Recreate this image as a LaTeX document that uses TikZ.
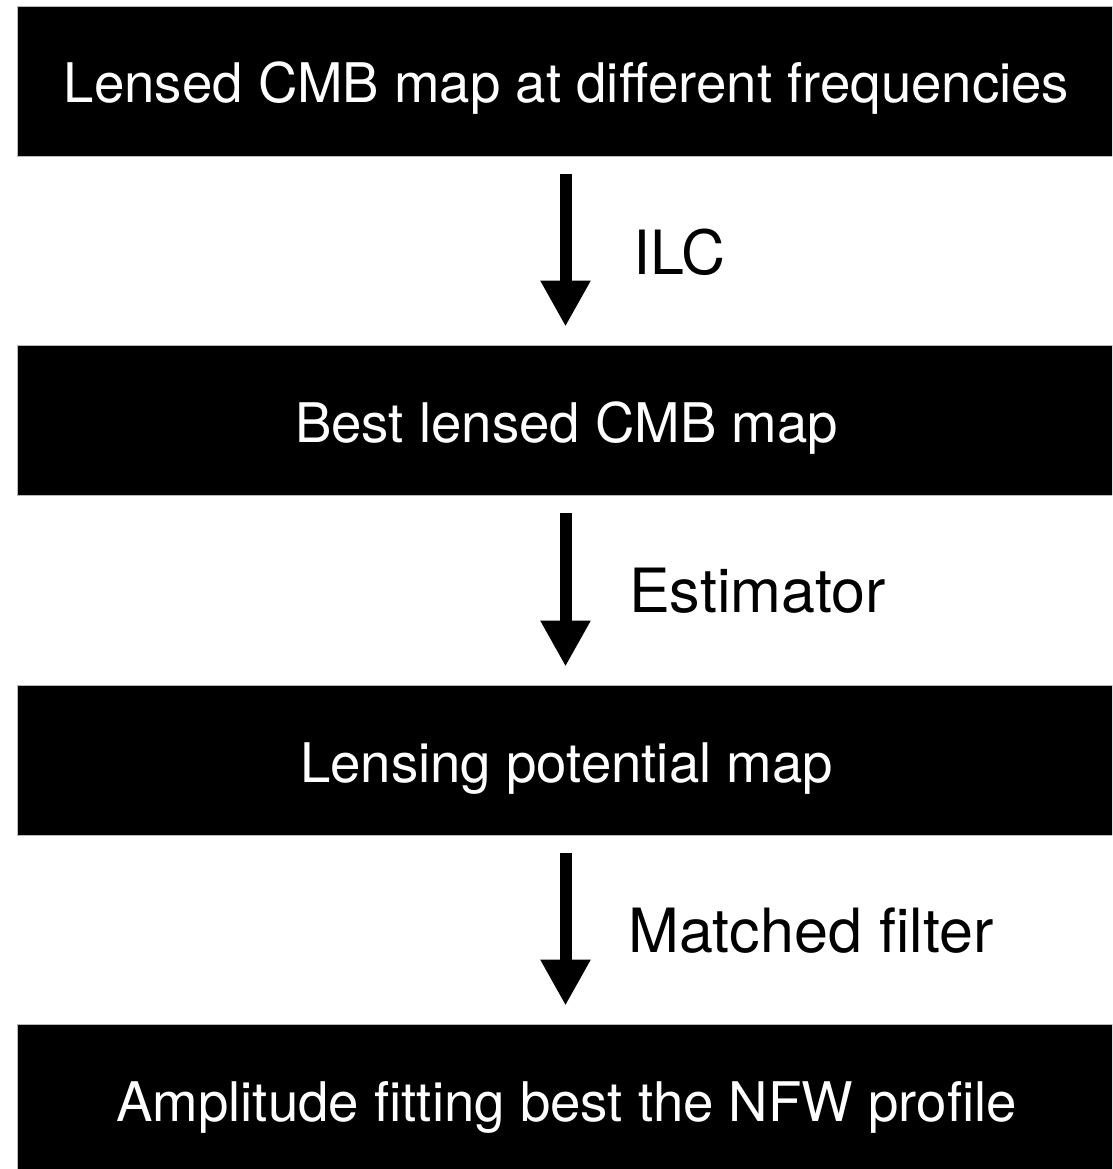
\documentclass[tikz,border=0pt]{standalone}
\usepackage{fontspec}
\setmainfont{TeX Gyre Heros}
\usetikzlibrary{arrows.meta}

\tikzset{
  stagebox/.style={rectangle, fill=black, draw=gray!55, line width=0.8pt,
    minimum width=1099pt, minimum height=150pt, inner sep=0pt,
    text=white, font=\fontsize{54.6}{60}\selectfont,
    text height=44pt, text depth=0pt},
  flowarrow/.style={line width=12pt,
    -{Triangle[width=47pt,length=46pt]}},
  steplabel/.style={anchor=base west, inner sep=0pt,
    font=\fontsize{61}{66}\selectfont}
}

\begin{document}
\begin{tikzpicture}[x=1pt,y=-1pt]
  \useasboundingbox (0,0) rectangle (1112,1169);
  \clip (0,0) rectangle (1112,1169);

  % processing stages
  \node[stagebox] (b1) at (566.5,81)   {Lensed CMB map at different frequencies};
  \node[stagebox] (b2) at (566.5,420)  {Best lensed CMB map};
  \node[stagebox] (b3) at (566.5,760)  {Lensing potential map};
  \node[stagebox] (b4) at (566.5,1099) {Amplitude fitting best the NFW profile};

  % arrows between stages
  \draw[flowarrow] ([xshift=-1pt,yshift=-18pt]b1.south) -- ([xshift=-1pt,yshift=18pt]b2.north);
  \draw[flowarrow] ([xshift=-1pt,yshift=-18pt]b2.south) -- ([xshift=-1pt,yshift=18pt]b3.north);
  \draw[flowarrow] ([xshift=-1pt,yshift=-18pt]b3.south) -- ([xshift=-1pt,yshift=18pt]b4.north);

  % method labels
  \node[steplabel] (l1) at (633,274)   {ILC};
  \node[steplabel] (l2) at (629,612.7) {Estimator};
  \node[steplabel] (l3) at (628,952.7) {Matched filter};
\end{tikzpicture}
\end{document}
